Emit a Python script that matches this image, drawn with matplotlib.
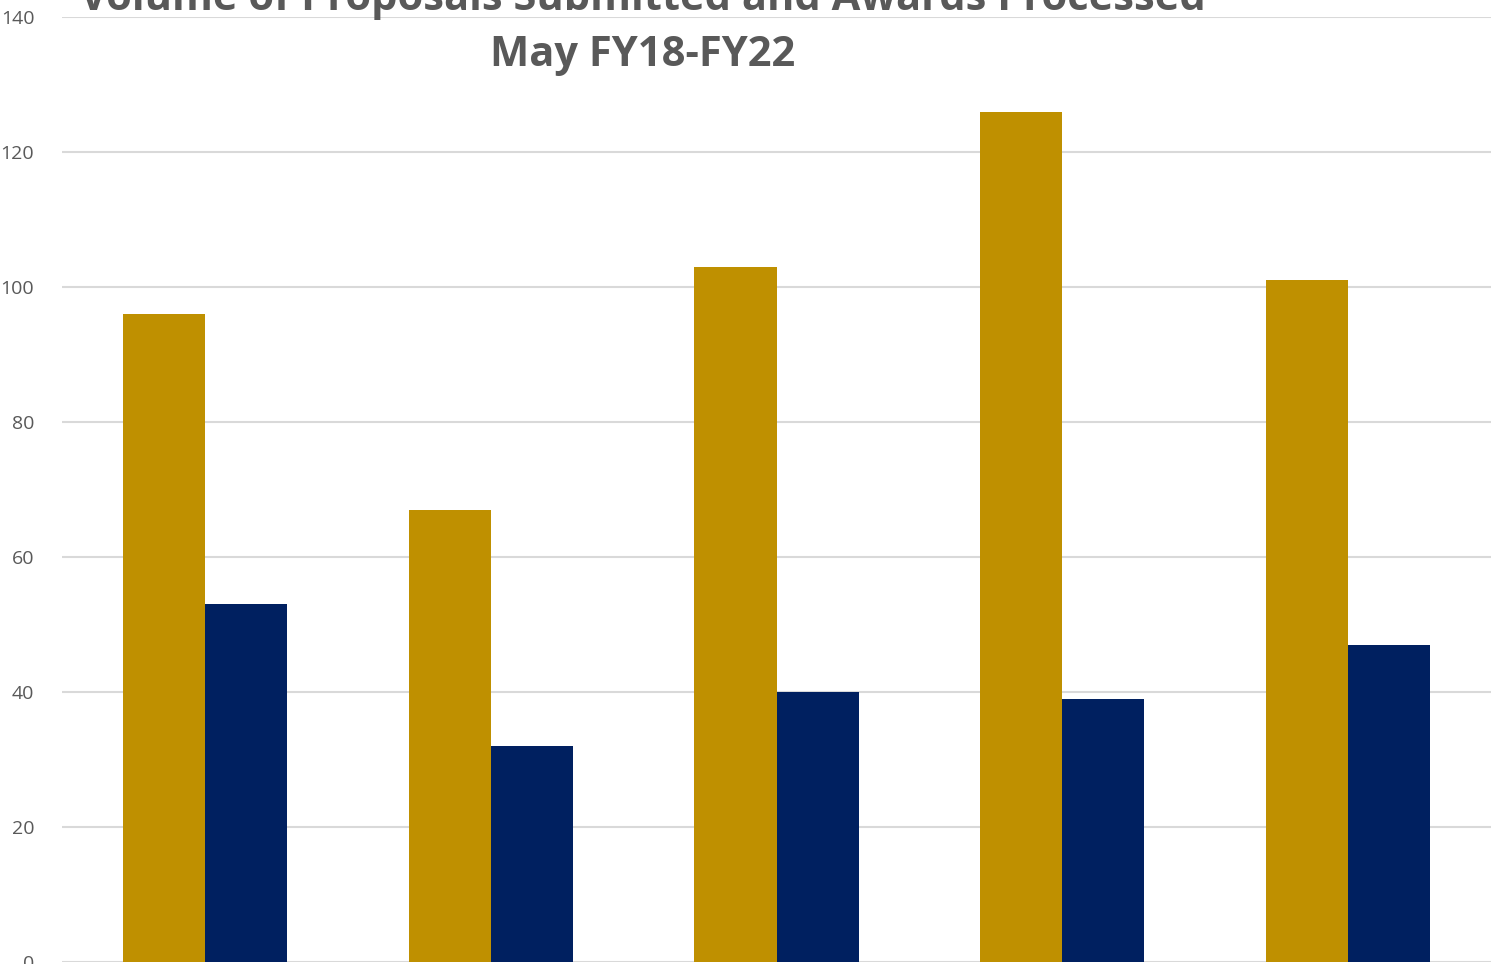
import numpy as np
import matplotlib
matplotlib.use("Agg")
import matplotlib.pyplot as plt

# data
years     = ["FY18", "FY19", "FY20", "FY21", "FY22"]
proposals = [96, 67, 103, 126, 101]
awards    = [53, 32, 40, 39, 47]
yticks    = [0, 20, 40, 60, 80, 100, 120, 140]

gold = "#BF9000"
navy = "#002060"
grey = "#595959"

fig = plt.figure(figsize=(14.92, 9.64), dpi=100)
ax = fig.add_axes([62/1492, 2/964, 1429/1492, 945/964])

x = np.arange(len(years))
w = 0.287
ax.bar(x - w/2, proposals, w, color=gold, zorder=3)
ax.bar(x + w/2, awards, w, color=navy, zorder=3)

ax.set_xlim(-0.5, len(years) - 0.5)
ax.set_ylim(0, 140)
ax.set_yticks(yticks)
ax.set_xticks([])
ax.yaxis.grid(True, color="#d9d9d9", linewidth=1.5, zorder=0)
for s in ax.spines.values():
    s.set_visible(False)
ax.tick_params(axis="y", length=0, pad=20, labelsize=14, labelcolor=grey)
for lbl in ax.get_yticklabels():
    lbl.set_fontfamily("Open Sans")

fig.text(643/1492, 1 - 10/964, "Volume of Proposals Submitted and Awards Processed",
         ha="center", va="baseline", fontsize=30, fontweight="bold",
         color=grey, family="Open Sans")
fig.text(643/1492, 1 - 66/964, "May FY18-FY22",
         ha="center", va="baseline", fontsize=30, fontweight="bold",
         color=grey, family="Open Sans")

fig.savefig("out.png", dpi=100)
